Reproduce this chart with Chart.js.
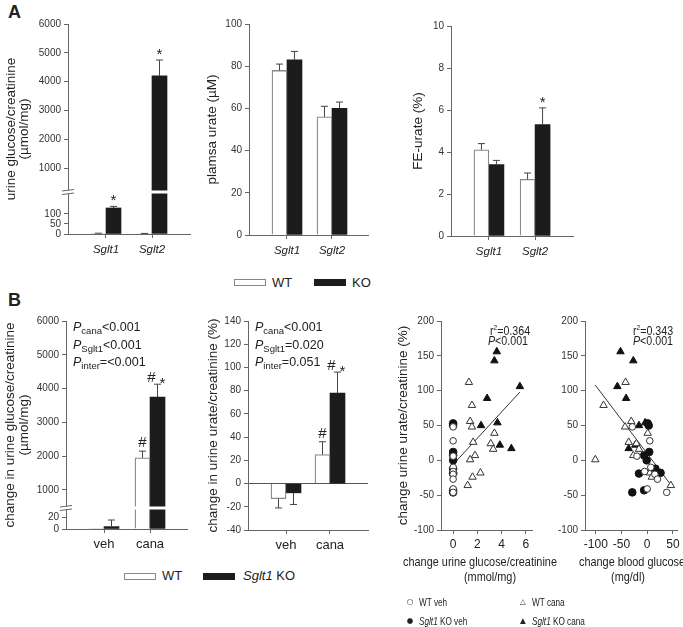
<!DOCTYPE html>
<html><head><meta charset="utf-8">
<script src="https://cdn.jsdelivr.net/npm/chart.js@4.4.1/dist/chart.umd.min.js"></script>
<style>
body{margin:0;background:#fff;width:683px;height:627px;position:relative;overflow:hidden;font-family:'Liberation Sans',Arial,sans-serif;color:#222}
canvas{position:absolute}
.t{position:absolute;white-space:nowrap;line-height:14px;font-size:12.5px}
.sb{font-size:9.5px;position:relative;top:3px}
.nar{transform-origin:0 0;transform:scaleX(0.82)}
.ctr{transform-origin:0 0;transform:scaleX(0.82) translateX(-50%)}
.box{position:absolute;height:5px;width:30px;border:1px solid #888;background:#fff}
.sym{position:absolute;font-size:7.5px;line-height:8px;font-family:'DejaVu Sans',sans-serif;transform:translate(-50%,-50%)}
</style></head><body>
<div class="t" style="left:8px;top:2px;font-size:18px;font-weight:bold;line-height:20px">A</div>
<div class="t" style="left:8px;top:290px;font-size:18px;font-weight:bold;line-height:20px">B</div>

<canvas id="a1" width="195" height="270" style="left:0;top:0"></canvas>
<canvas id="a2" width="178" height="270" style="left:195px;top:0"></canvas>
<canvas id="a3" width="177" height="270" style="left:398px;top:0"></canvas>
<canvas id="b1" width="192" height="264" style="left:0;top:296px"></canvas>
<canvas id="b2" width="175" height="264" style="left:198px;top:296px"></canvas>
<canvas id="b3" width="160" height="270" style="left:380px;top:296px"></canvas>
<canvas id="b4" width="143" height="270" style="left:540px;top:296px"></canvas>

<!-- legend A -->
<div class="box" style="left:234px;top:279px"></div>
<div class="t" style="left:272px;top:276px;font-size:13px">WT</div>
<div class="box" style="left:314px;top:279px;background:#1c1c1c;border-color:#1c1c1c"></div>
<div class="t" style="left:352px;top:276px;font-size:13px">KO</div>
<!-- legend B bars -->
<div class="box" style="left:124px;top:573px"></div>
<div class="t" style="left:162px;top:569px;font-size:13px">WT</div>
<div class="box" style="left:203px;top:573px;background:#1c1c1c;border-color:#1c1c1c"></div>
<div class="t" style="left:243px;top:569px;font-size:13px"><i>Sglt1</i> KO</div>

<!-- stats text -->
<div class="t" style="left:73px;top:320px"><i>P</i><span class="sb">cana</span>&lt;0.001</div>
<div class="t" style="left:73px;top:338px"><i>P</i><span class="sb">Sglt1</span>&lt;0.001</div>
<div class="t" style="left:73px;top:355px"><i>P</i><span class="sb">inter</span>=&lt;0.001</div>
<div class="t" style="left:255px;top:320px"><i>P</i><span class="sb">cana</span>&lt;0.001</div>
<div class="t" style="left:255px;top:338px"><i>P</i><span class="sb">Sglt1</span>=0.020</div>
<div class="t" style="left:255px;top:355px"><i>P</i><span class="sb">inter</span>=0.051</div>
<div class="t nar" style="left:490px;top:321px;font-size:13px">r<sup style="font-size:8px">2</sup>=0.364</div>
<div class="t nar" style="left:488px;top:334px;font-size:13px"><i>P</i>&lt;0.001</div>
<div class="t nar" style="left:633px;top:321px;font-size:13px">r<sup style="font-size:8px">2</sup>=0.343</div>
<div class="t nar" style="left:633px;top:334px;font-size:13px"><i>P</i>&lt;0.001</div>

<!-- scatter x titles -->
<div class="t ctr" style="left:480px;top:555px;font-size:13.3px">change urine glucose/creatinine</div>
<div class="t ctr" style="left:490px;top:570px;font-size:13.3px">(mmol/mg)</div>
<div class="t ctr" style="left:632px;top:555px;font-size:13.3px">change blood glucose</div>
<div class="t ctr" style="left:628px;top:570px;font-size:13.3px">(mg/dl)</div>

<!-- scatter legend -->
<div class="sym" style="left:410px;top:602px">&#9675;</div>
<div class="t nar" style="left:419px;top:597px;font-size:10px;line-height:11px">WT veh</div>
<div class="sym" style="left:410px;top:621px">&#9679;</div>
<div class="t nar" style="left:419px;top:616px;font-size:10px;line-height:11px"><i>Sglt1</i> KO veh</div>
<div class="sym" style="left:523px;top:602px">&#9651;</div>
<div class="t nar" style="left:532px;top:597px;font-size:10px;line-height:11px">WT cana</div>
<div class="sym" style="left:523px;top:621px">&#9650;</div>
<div class="t nar" style="left:532px;top:616px;font-size:10px;line-height:11px"><i>Sglt1</i> KO cana</div>

<script>
// ===== DATA =====
const GENES=['Sglt1','Sglt2'];
const TREAT=['veh','cana'];

// A: urine glucose/creatinine (µmol/mg)
const A_UGLU_WT=[3,2], A_UGLU_WT_ERR=[1,1], A_UGLU_WT_MARK=['',''];
const A_UGLU_KO=[130,4200], A_UGLU_KO_ERR=[8,550], A_UGLU_KO_MARK=['*','*'];
const A_UGLU_TICKS=[0,50,100,1000,2000,3000,4000,5000,6000];
// A: plasma urate (µM)
const A_PUR_WT=[78,56], A_PUR_WT_ERR=[3,5];
const A_PUR_KO=[83,60], A_PUR_KO_ERR=[4,3];
const A_PUR_TICKS=[0,20,40,60,80,100];
// A: FE-urate (%)
const A_FEU_WT=[4.1,2.7], A_FEU_WT_ERR=[0.3,0.3];
const A_FEU_KO=[3.4,5.3], A_FEU_KO_ERR=[0.2,0.8], A_FEU_KO_MARK=['','*'];
const A_FEU_TICKS=[0,2,4,6,8,10];

// B: change in urine glucose/creatinine (µmol/mg)
const B_UGLU_WT=[1,1950], B_UGLU_WT_ERR=[0,200], B_UGLU_WT_MARK=['','#'];
const B_UGLU_KO=[4,3750], B_UGLU_KO_ERR=[11,380], B_UGLU_KO_MARK=['','#*'];
const B_UGLU_TICKS=[0,20,1000,2000,3000,4000,5000,6000];
// B: change in urine urate/creatinine (%)
const B_UUR_WT=[-13,25], B_UUR_WT_ERR=[8,11], B_UUR_WT_MARK=['','#'];
const B_UUR_KO=[-8,78], B_UUR_KO_ERR=[10,18], B_UUR_KO_MARK=['','#*'];
const B_UUR_TICKS=[-40,-20,0,20,40,60,80,100,120,140];

// scatter: change urine urate/creatinine (%) per animal
const WT_VEH_URATE=[48,28,6,-10,-16,-20,-27,-41,-46];
const WT_VEH_UGLU=[0,0,0,0,0,0,0,0,0];
const WT_VEH_BGLU=[-29,5,-20,7,-5,15,20,0,38];
const KO_VEH_URATE=[53,50,12,7,0,-12,-19,-18,-46,-43];
const KO_VEH_UGLU=[0,0,0,0,0,0,0,0,0,0];
const KO_VEH_BGLU=[1,3,4,-6,-1,16,-16,26,-29,-6];
const WT_CANA_URATE=[112,79,56,48,39,26,24,16,7,1,-18,-24,-36];
const WT_CANA_UGLU=[1.3,1.55,1.4,1.55,3.4,1.65,3.1,3.3,1.8,1.4,2.25,1.6,1.2];
const WT_CANA_BGLU=[-42,-85,-31,-43,1,-36,-21,-16,-27,-101,5,9,46];
const KO_CANA_URATE=[156,143,106,89,50,54,22,17];
const KO_CANA_UGLU=[3.6,3.4,5.5,2.8,2.3,3.65,3.85,4.8];
const KO_CANA_BGLU=[-52,-27,-58,-41,-16,-4,-23,-36];
// regression lines (end points)
const FIT1_X=[0,5.5], FIT1_Y=[-6,98];
const FIT2_X=[-101,50], FIT2_Y=[108,-39];
const SC_Y_TICKS=[-100,-50,0,50,100,150,200];
const SC1_X_TICKS=[0,2,4,6];
const SC2_X_TICKS=[-100,-50,0,50];

// ===== SETUP =====
Chart.defaults.font.family="'Liberation Sans', Arial, sans-serif";
Chart.defaults.color='#222';
Chart.defaults.animation=false;
const AXIS='#666';

// linear scale with a piecewise (broken) mapping
class BrokenScale extends Chart.LinearScale{
  getPixelForValue(v){
    const b=this.options.brk;let f;
    if(v<=b.lowMax)f=(v-this.min)/(b.lowMax-this.min)*b.lowFrac;
    else if(v>=b.highMin)f=b.highFrac+(v-b.highMin)/(this.max-b.highMin)*(1-b.highFrac);
    else f=b.lowFrac+(v-b.lowMax)/(b.highMin-b.lowMax)*(b.highFrac-b.lowFrac);
    return this.getPixelForDecimal(f);
  }
  getValueForPixel(p){
    const b=this.options.brk,f=this.getDecimalForPixel(p);
    if(f<=b.lowFrac)return this.min+f/b.lowFrac*(b.lowMax-this.min);
    if(f>=b.highFrac)return b.highMin+(f-b.highFrac)/(1-b.highFrac)*(this.max-b.highMin);
    return b.lowMax+(f-b.lowFrac)/(b.highFrac-b.lowFrac)*(b.highMin-b.lowMax);
  }
}
BrokenScale.id='broken';
BrokenScale.defaults=Chart.LinearScale.defaults;
Chart.register(BrokenScale);

// error bars, * / # marks, axis break
const barDecor={id:'barDecor',afterDatasetsDraw(chart,args,opts){
  const ctx=chart.ctx,ys=chart.scales.y,ca=chart.chartArea;
  ctx.save();
  chart.data.datasets.forEach((ds,di)=>{
    chart.getDatasetMeta(di).data.forEach((bar,i)=>{
      const v=ds.data[i].y,e=ds.errs[i],m=ds.marks[i];
      const top=ys.getPixelForValue(v<0?v-e:v+e),y0=ys.getPixelForValue(v);
      ctx.strokeStyle='#444';ctx.lineWidth=1;
      if(e>0){ctx.beginPath();ctx.moveTo(bar.x,y0);ctx.lineTo(bar.x,top);ctx.moveTo(bar.x-3.5,top);ctx.lineTo(bar.x+3.5,top);ctx.stroke();}
      if(m){
        ctx.fillStyle='#222';ctx.font="15px 'Liberation Sans', Arial";ctx.textAlign='center';ctx.textBaseline='alphabetic';
        if(m==='#*'){ctx.fillText('#',bar.x-6,top-2);ctx.fillText('*',bar.x+5,top+4);}
        else if(m==='#')ctx.fillText('#',bar.x,top-4);
        else ctx.fillText('*',bar.x,top-1);
      }
    });
  });
  if(opts&&opts.brk!=null){
    const yb=Math.round(ys.getPixelForValue(opts.brk));
    ctx.fillStyle='#fff';ctx.fillRect(ca.left-6,yb-1.5,ca.right-ca.left+6,3);
    ctx.strokeStyle=AXIS;ctx.lineWidth=1;ctx.beginPath();
    ctx.moveTo(ca.left-6,yb-1);ctx.lineTo(ca.left+6,yb-2.5);
    ctx.moveTo(ca.left-6,yb+2.5);ctx.lineTo(ca.left+6,yb+1);ctx.stroke();
  }
  ctx.restore();
}};

function barPanel(id,o){
  const pts=vals=>vals.map((v,i)=>({x:i+1,y:v}));
  const yScale={type:o.brk?'broken':'linear',min:o.ymin,max:o.ymax,brk:o.brk,
    afterBuildTicks:s=>{s.ticks=o.yTicks.map(v=>({value:v}))},
    afterFit:s=>{s.width=o.yw},
    border:{color:AXIS},
    grid:{drawOnChartArea:!!o.zero,tickLength:4,tickColor:AXIS,
      color:c=>(o.zero&&c.tick&&c.tick.value===0)?'#555':'rgba(0,0,0,0)'},
    ticks:{font:{size:10},color:'#333',padding:3,callback:v=>String(v)},
    title:{display:true,text:o.yTitle,font:{size:13.5,lineHeight:1},color:'#222',padding:{top:o.tp,bottom:0}}};
  return new Chart(document.getElementById(id),{
    type:'bar',
    data:{datasets:[
      {label:'WT',data:pts(o.wt),errs:o.wtErr,marks:o.wtMark,backgroundColor:'#fff',borderColor:'#8a8a8a',borderWidth:1.3,barThickness:15},
      {label:'KO',data:pts(o.ko),errs:o.koErr,marks:o.koMark,backgroundColor:'#1c1c1c',borderColor:'#1c1c1c',borderWidth:0,barThickness:15}
    ]},
    options:{responsive:false,animation:false,
      layout:{padding:{top:o.pt,right:o.pr,left:0,bottom:0}},
      plugins:{legend:{display:false},tooltip:{enabled:false},barDecor:{brk:o.brkMark}},
      scales:{
        x:{type:'linear',offset:false,min:o.xmin,max:o.xmax,
          afterBuildTicks:s=>{s.ticks=o.cats.map((c,i)=>({value:i+1}))},
          afterFit:s=>{s.height=o.xh},
          border:{color:AXIS},grid:{offset:false,drawOnChartArea:false,tickLength:4,tickColor:AXIS},
          ticks:{callback:(v,i)=>o.cats[i],font:o.catFont,color:'#222',padding:o.xpad,maxRotation:0,autoSkip:false}},
        y:yScale}},
    plugins:[barDecor]
  });
}

function scatterPanel(id,o){
  const pts=(xs,ys)=>xs.map((x,i)=>({x,y:ys[i]}));
  return new Chart(document.getElementById(id),{
    type:'scatter',
    data:{datasets:[
      {label:'WT veh',data:pts(o.wtVeh,WT_VEH_URATE),pointStyle:'circle',pointRadius:3.3,backgroundColor:'#fff',borderColor:'#333',borderWidth:1},
      {label:'Sglt1 KO veh',data:pts(o.koVeh,KO_VEH_URATE),pointStyle:'circle',pointRadius:3.8,backgroundColor:'#111',borderColor:'#111',borderWidth:1},
      {label:'WT cana',data:pts(o.wtCana,WT_CANA_URATE),pointStyle:'triangle',pointRadius:4.3,backgroundColor:'#fff',borderColor:'#333',borderWidth:1},
      {label:'Sglt1 KO cana',data:pts(o.koCana,KO_CANA_URATE),pointStyle:'triangle',pointRadius:4.3,backgroundColor:'#111',borderColor:'#111',borderWidth:1},
      {type:'line',label:'fit',data:pts(o.fitX,o.fitY),borderColor:'#333',borderWidth:1,pointRadius:0}
    ]},
    options:{responsive:false,animation:false,
      layout:{padding:{top:o.pt,right:o.pr,left:0,bottom:0}},
      plugins:{legend:{display:false},tooltip:{enabled:false}},
      scales:{
        x:{type:'linear',min:o.xmin,max:o.xmax,
          afterBuildTicks:s=>{s.ticks=o.xTicks.map(v=>({value:v}))},
          afterFit:s=>{s.height=o.xh},
          border:{color:AXIS},grid:{drawOnChartArea:false,tickLength:4,tickColor:AXIS},
          ticks:{font:{size:12},color:'#222',padding:3,maxRotation:0,autoSkip:false}},
        y:{type:'linear',min:-100,max:200,
          afterBuildTicks:s=>{s.ticks=SC_Y_TICKS.map(v=>({value:v}))},
          afterFit:s=>{s.width=o.yw},
          border:{color:AXIS},grid:{drawOnChartArea:false,tickLength:4,tickColor:AXIS},
          ticks:{font:{size:10},color:'#333',padding:3},
          title:{display:!!o.yTitle,text:o.yTitle||'',font:{size:13.5,lineHeight:1},color:'#222',padding:{top:o.tp||0,bottom:0}}}}}
  });
}

// ===== PANELS =====
const catA={size:11.5,style:'italic'};
const catB={size:13};
barPanel('a1',{cats:GENES,wt:A_UGLU_WT,wtErr:A_UGLU_WT_ERR,wtMark:A_UGLU_WT_MARK,ko:A_UGLU_KO,koErr:A_UGLU_KO_ERR,koMark:A_UGLU_KO_MARK,
  ymin:0,ymax:6000,yTicks:A_UGLU_TICKS,brk:{lowMax:150,lowFrac:0.143,highMin:174,highFrac:0.2},brkMark:174,
  yTitle:['urine glucose/creatinine','(µmol/mg)'],tp:4.2,yw:68,xh:36,pt:24,pr:5,xmin:0.174,xmax:2.826,catFont:catA,xpad:5});
barPanel('a2',{cats:GENES,wt:A_PUR_WT,wtErr:A_PUR_WT_ERR,wtMark:['',''],ko:A_PUR_KO,koErr:A_PUR_KO_ERR,koMark:['',''],
  ymin:0,ymax:100,yTicks:A_PUR_TICKS,yTitle:'plamsa urate (µM)',tp:11,yw:54,xh:35,pt:24,pr:5,xmin:0.156,xmax:2.8,catFont:catA,xpad:5});
barPanel('a3',{cats:GENES,wt:A_FEU_WT,wtErr:A_FEU_WT_ERR,wtMark:['',''],ko:A_FEU_KO,koErr:A_FEU_KO_ERR,koMark:A_FEU_KO_MARK,
  ymin:0,ymax:10,yTicks:A_FEU_TICKS,yTitle:'FE-urate (%)',tp:14,yw:53,xh:34,pt:26,pr:2,xmin:0.178,xmax:2.822,catFont:catA,xpad:5});
barPanel('b1',{cats:TREAT,wt:B_UGLU_WT,wtErr:B_UGLU_WT_ERR,wtMark:B_UGLU_WT_MARK,ko:B_UGLU_KO,koErr:B_UGLU_KO_ERR,koMark:B_UGLU_KO_MARK,
  ymin:0,ymax:6000,yTicks:B_UGLU_TICKS,brk:{lowMax:25,lowFrac:0.072,highMin:467,highFrac:0.101},brkMark:467,
  yTitle:['change in urine glucose/creatinine','(µmol/mg)'],tp:3.8,yw:66,xh:31,pt:25,pr:5,xmin:0.174,xmax:2.804,catFont:catB,xpad:4});
barPanel('b2',{cats:TREAT,wt:B_UUR_WT,wtErr:B_UUR_WT_ERR,wtMark:B_UUR_WT_MARK,ko:B_UUR_KO,koErr:B_UUR_KO_ERR,koMark:B_UUR_KO_MARK,
  ymin:-40,ymax:140,yTicks:B_UUR_TICKS,zero:true,yTitle:'change in urine urate/creatinine (%)',tp:8.8,yw:50,xh:30,pt:25,pr:5,xmin:0.136,xmax:2.864,catFont:catB,xpad:4});
scatterPanel('b3',{wtVeh:WT_VEH_UGLU,koVeh:KO_VEH_UGLU,wtCana:WT_CANA_UGLU,koCana:KO_CANA_UGLU,fitX:FIT1_X,fitY:FIT1_Y,
  xmin:-1,xmax:6.5,xTicks:SC1_X_TICKS,yTitle:'change urine urate/creatinine (%)',tp:16.2,yw:61,xh:36,pt:25,pr:8});
scatterPanel('b4',{wtVeh:WT_VEH_BGLU,koVeh:KO_VEH_BGLU,wtCana:WT_CANA_BGLU,koCana:KO_CANA_BGLU,fitX:FIT2_X,fitY:FIT2_Y,
  xmin:-121,xmax:58,xTicks:SC2_X_TICKS,yw:45,xh:36,pt:25,pr:6});
</script>
</body></html>
